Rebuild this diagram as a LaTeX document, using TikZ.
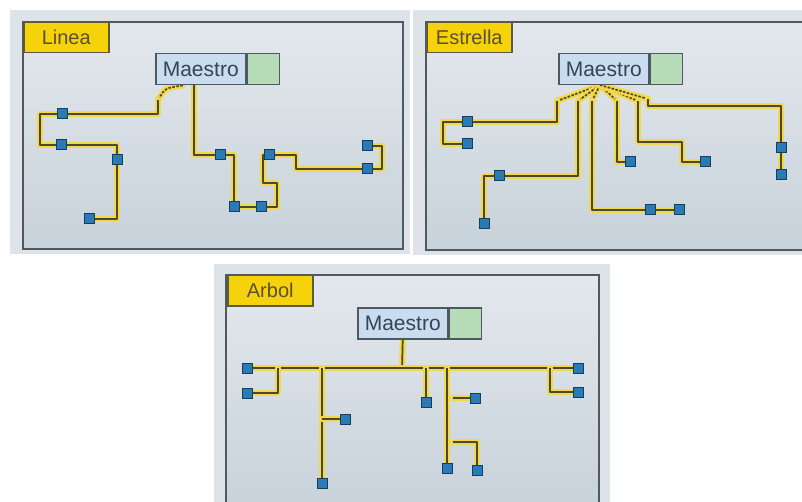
\documentclass[tikz,border=0pt]{standalone}
\usepackage{fontspec}
\setmainfont{Liberation Sans}
\usetikzlibrary{calc}
\definecolor{outerbg}{HTML}{DDE3E8}
\definecolor{panelTop}{HTML}{E3E8ED}
\definecolor{panelBot}{HTML}{C8D2DA}
\definecolor{frameC}{HTML}{505860}
\definecolor{labFill}{HTML}{F5D20A}
\definecolor{labBorder}{HTML}{5C5A40}
\definecolor{labText}{HTML}{5A5030}
\definecolor{maeFill}{HTML}{CADCF0}
\definecolor{maeBorder}{HTML}{4E5860}
\definecolor{maeText}{HTML}{34445A}
\definecolor{grnFill}{HTML}{B6DCB8}
\definecolor{devFill}{HTML}{2A7AB8}
\definecolor{devBorder}{HTML}{123F5F}
\definecolor{glow}{HTML}{F3D84A}
\definecolor{wireDark}{HTML}{4A4834}
\pgfdeclarelayer{panel}
\pgfdeclarelayer{wires}
\pgfsetlayers{panel,wires,main}
\tikzset{
 lab/.style={rectangle, draw=labBorder, line width=1.5pt, fill=labFill, text=labText, minimum width=85pt, minimum height=30pt, inner sep=0pt, font=\fontsize{20}{20}\selectfont, anchor=north west},
 mae/.style={rectangle, draw=maeBorder, line width=1.5pt, fill=maeFill, text=maeText, minimum width=90pt, minimum height=31pt, inner sep=0pt, font=\fontsize{21}{21}\selectfont, anchor=north west},
 grn/.style={rectangle, draw=maeBorder, line width=1.5pt, fill=grnFill, minimum width=32pt, minimum height=31pt, inner sep=0pt, anchor=north west},
 dev/.style={rectangle, draw=devBorder, line width=1pt, fill=devFill, minimum size=10pt, inner sep=0pt},
 wire/.style={draw=wireDark, line width=1.7pt, line join=round, preaction={draw=glow, solid, line width=6pt, line cap=round, line join=round}},
 dwire/.style={wire, dash pattern=on 2.5pt off 1.5pt},
 outerpanel/.style={fill=outerbg},
 innerpanel/.style={draw=frameC, line width=2pt, top color=panelTop, bottom color=panelBot},
}
\begin{document}
\begin{tikzpicture}[x=1pt,y=-1pt]
\useasboundingbox (0,0) rectangle (802,502);
\begin{pgfonlayer}{panel}
\fill[white] (0,0) rectangle (802,502);
\fill[outerpanel] (10,10) rectangle (410,254);
\draw[innerpanel] (23,22) rectangle (403,249);
\fill[outerpanel] (413,10) rectangle (802,255);
\draw[innerpanel] (426,22) rectangle (808,250);
\fill[outerpanel] (214,264) rectangle (610,502);
\draw[innerpanel] (226,275) rectangle (599,508);
\end{pgfonlayer}

% ---------------- Linea ----------------
\node[lab] (tL) at (23,22) {Linea};
\node[mae] (mL) at (155,53) {Maestro};
\node[grn] (gL) at (mL.north east) {};
\node[dev] (L1) at (62,114) {};
\node[dev] (L2) at (61,145) {};
\node[dev] (L3) at (117,160) {};
\node[dev] (L4) at (89,219) {};
\node[dev] (L5) at (220,155) {};
\node[dev] (L6) at (234,207) {};
\node[dev] (L7) at (261,207) {};
\node[dev] (L8) at (269,155) {};
\node[dev] (L9) at (367,146) {};
\node[dev] (L10) at (367,169) {};
\coordinate (cL1) at (158,100);
\coordinate (cL2) at (194,84);
\begin{pgfonlayer}{wires}
\draw[dwire] ([xshift=-18pt]mL.south) .. controls (165,88) .. (cL1);
\draw[wire] (cL1) -- (158,114) -- (L1);
\draw[wire] (L1) -- (40,114) -- (40,145) -- (L2);
\draw[wire] (L2) -- (117,145) -- (L3);
\draw[wire] (L3) -- (117,219) -- (L4);
\draw[wire] (cL2) -- (194,155) -- (L5);
\draw[wire] (L5) -| (L6);
\draw[wire] (L6) -- (L7);
\draw[wire] (L7) -- (277,207) -- (277,183) -- (263,183) -- (263,155) -- (L8);
\draw[wire] (L8) -- (296,155) -- (296,169) -- (L10);
\draw[wire] (L10) -- (382,169) -- (382,146) -- (L9);
\end{pgfonlayer}

% ---------------- Estrella ----------------
\node[lab] (tE) at (426,22) {Estrella};
\node[mae] (mE) at (558,53) {Maestro};
\node[grn] (gE) at (mE.north east) {};
\node[dev] (E1) at (467,122) {};
\node[dev] (E2) at (467,144) {};
\node[dev] (E3) at (499,176) {};
\node[dev] (E4) at (484,224) {};
\node[dev] (E5) at (630,162) {};
\node[dev] (E6) at (705,162) {};
\node[dev] (E7) at (650,210) {};
\node[dev] (E8) at (679,210) {};
\node[dev] (E9) at (781,148) {};
\node[dev] (E10) at (781,175) {};
\coordinate (hE) at (600,85);
\coordinate (eA) at (557,101);
\coordinate (eB) at (578,101);
\coordinate (eC) at (592,101);
\coordinate (eD) at (617,101);
\coordinate (eE) at (638,101);
\coordinate (eF) at (648,99);
\begin{pgfonlayer}{wires}
\draw[dwire] (hE) -- (eA);
\draw[dwire] (hE) -- (eB);
\draw[dwire] (hE) -- (eC);
\draw[dwire] (hE) -- (eD);
\draw[dwire] (hE) -- (eE);
\draw[dwire] (hE) -- (eF);
\draw[wire] (eA) |- (E1);
\draw[wire] (E1) -- (443,122) -- (443,144) -- (E2);
\draw[wire] (eB) |- (E3);
\draw[wire] (E3) -| (E4);
\draw[wire] (eC) |- (E7);
\draw[wire] (E7) -- (E8);
\draw[wire] (eD) |- (E5);
\draw[wire] (eE) -- (638,142) -- (682,142) -- (682,162) -- (E6);
\draw[wire] (eF) -- (648,106) -| (E9);
\draw[wire] (E9) -- (E10);
\end{pgfonlayer}

% ---------------- Arbol ----------------
\node[lab] (tA) at (227,275) {Arbol};
\node[mae] (mA) at (357,307) {Maestro};
\node[grn] (gA) at (mA.north east) {};
\node[dev] (A1) at (247,368) {};
\node[dev] (A2) at (247,393) {};
\node[dev] (A3) at (345,419) {};
\node[dev] (A4) at (322,483) {};
\node[dev] (A5) at (426,402) {};
\node[dev] (A6) at (475,398) {};
\node[dev] (A7) at (447,468) {};
\node[dev] (A8) at (477,470) {};
\node[dev] (A9) at (578,368) {};
\node[dev] (A10) at (578,392) {};
\coordinate (bA) at (402,368);
\begin{pgfonlayer}{wires}
\draw[wire] (mA.south) -- (bA);
\draw[wire] (A1) -- (A9);
\draw[wire] (278,368) -- (278,393) -- (A2);
\draw[wire] (322,368) -- (A4);
\draw[wire] (322,419) -- (A3);
\draw[wire] (426,368) -- (A5);
\draw[wire] (447,368) -- (A7);
\draw[wire] (453,398) -- (A6);
\draw[wire] (453,442) -| (A8);
\draw[wire] (550,368) -- (550,392) -- (A10);
\end{pgfonlayer}
\end{tikzpicture}
\end{document}
